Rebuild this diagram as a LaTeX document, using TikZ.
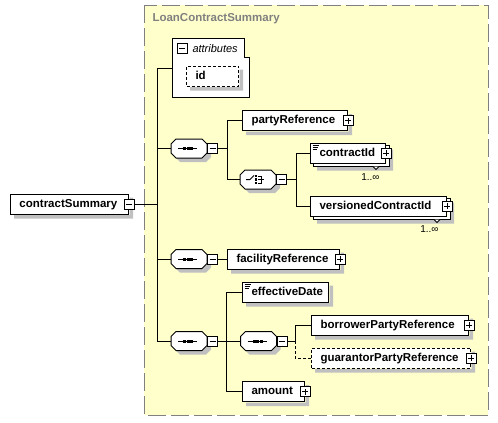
\documentclass[tikz,border=0pt]{standalone}
\usepackage{fontspec}
\setmainfont{Liberation Sans}
\usetikzlibrary{positioning}
\definecolor{lightyellow}{RGB}{255,255,204}
\definecolor{framegray}{RGB}{128,128,128}
\definecolor{shadowgray}{RGB}{192,192,192}
\newcommand{\octpath}[1]{([xshift=5pt]#1.north west) -- ([xshift=-5pt]#1.north east) -- ([yshift=-5pt]#1.north east) -- ([yshift=5pt]#1.south east) -- ([xshift=-5pt]#1.south east) -- ([xshift=5pt]#1.south west) -- ([yshift=5pt]#1.south west) -- ([yshift=-5pt]#1.north west) -- cycle}

\begin{document}
\begin{tikzpicture}[x=1pt, y=-1pt, line width=1pt]
		\tikzstyle{elem} = [rectangle, draw=black, fill=white, align=left, inner xsep=9pt, inner ysep=0pt, minimum height=20pt, text height=8.5pt, text depth=2.5pt, font=\bfseries\fontsize{11.5}{13}\selectfont, anchor=west]
		\tikzstyle{optional} = [dash pattern=on 3pt off 2pt]
		\tikzstyle{simple} = [path picture={
			\draw[line width=0.8pt] ([xshift=2pt, yshift=-2pt]path picture bounding box.north west) -- ++(6pt,0pt);
			\draw[line width=0.8pt] ([xshift=2pt, yshift=-4pt]path picture bounding box.north west) -- ++(5pt,0pt);
			\draw[line width=0.8pt] ([xshift=2pt, yshift=-6pt]path picture bounding box.north west) -- ++(4pt,0pt);}]
		\tikzstyle{minusbox} = [rectangle, draw=black, fill=white, minimum size=10pt, inner sep=0pt, path picture={
			\draw ([xshift=-3pt]path picture bounding box.center) -- ([xshift=3pt]path picture bounding box.center);}]
		\tikzstyle{plusbox} = [rectangle, draw=black, fill=white, minimum size=10pt, inner sep=0pt, path picture={
			\draw ([xshift=-3pt]path picture bounding box.center) -- ([xshift=3pt]path picture bounding box.center);
			\draw ([yshift=-3pt]path picture bounding box.center) -- ([yshift=3pt]path picture bounding box.center);}]
		\tikzstyle{compositor} = [rectangle, minimum width=35pt, minimum height=18pt, inner sep=0pt, append after command={\pgfextra{
			\fill[shadowgray, transform canvas={shift={(4pt,-4pt)}}] \octpath{\tikzlastnode};
			\draw[fill=white] \octpath{\tikzlastnode};}}]
		\tikzstyle{seq} = [compositor, append after command={\pgfextra{
			\begin{scope}[shift={(\tikzlastnode.center)}, x=1pt, y=1pt]
			\draw (-11,0) -- (8,0);
			\fill[black] (-6,-1.5) rectangle ++(3,3);
			\fill[black] (-2.5,-1.5) rectangle ++(3,3);
			\fill[black] (1,-1.5) rectangle ++(3,3);
			\end{scope}}}]
		\tikzstyle{choice} = [compositor, append after command={\pgfextra{
			\begin{scope}[shift={(\tikzlastnode.center)}, x=1pt, y=1pt]
			\draw (-12,0) -- (-8,0) -- (-4,4);
			\fill[black] (-3.25,2.25) rectangle ++(2.5,2.5);
			\fill[black] (-3.25,-1.25) rectangle ++(2.5,2.5);
			\fill[black] (-3.25,-4.75) rectangle ++(2.5,2.5);
			\draw (0,3.5) -- (3,3.5) -- (3,-3.5) -- (0,-3.5);
			\draw (0,0) -- (6,0);
			\end{scope}}}]
		\tikzstyle{occ} = [inner sep=0pt, anchor=east, font=\fontsize{10}{12}\selectfont]
		
		\useasboundingbox (0,0) rectangle (498,423);
		
		\draw [framegray, fill=lightyellow, dash pattern=on 18pt off 5pt] (144,5) rectangle (488,415);
		\node (title) [anchor=base west, inner sep=0pt, text=framegray, font=\bfseries\fontsize{11.5}{13}\selectfont] at (152,21.5) {LoanContractSummary};
		
		\node (root) [elem, text width=100pt] at (10,204) {contractSummary};
		\coordinate (trunk) at (157,204);
		
		\draw [fill=white] (172,38) -- (244,38) -- (244,57) -- (249,57) -- (249,97) -- (172,97) -- cycle;
		\coordinate (attr) at (172,68);
		\node (attrM) [minusbox] at (182,48) {};
		\node (attrText) [anchor=base west, inner sep=0pt, font=\itshape\fontsize{11}{13}\selectfont] at (192,52.5) {attributes};
		\node (id) [elem, optional, text width=34pt] at (186,76) {id};
		
		\node (seqA) [seq] at (189,148.5) {};
		\node (seqAm) [minusbox, right=0pt of seqA] {};
		\coordinate (jA) at (227,148.5);
		\node (party) [elem, text width=87pt] at (242,120.5) {partyReference};
		
		\node (choice) [choice] at (258,179.5) {};
		\node (choiceM) [minusbox, right=0pt of choice] {};
		\coordinate (jB) at (296,179.5);
		\node (cid) [elem, simple, text width=57pt] at (310,153) {contractId};
		\node (vcid) [elem, text width=118pt] at (310,206) {versionedContractId};
		
		\node (seqB) [seq] at (189,259) {};
		\node (seqBm) [minusbox, right=0pt of seqB] {};
		\node (facility) [elem, text width=94pt] at (227,259) {facilityReference};
		
		\node (seqC) [seq] at (189,341) {};
		\node (seqCm) [minusbox, right=0pt of seqC] {};
		\coordinate (jC) at (226,341);
		\node (effdate) [elem, simple, text width=68pt] at (242,292) {effectiveDate};
		\node (seqD) [seq] at (258.5,341) {};
		\node (seqDm) [minusbox, right=0pt of seqD] {};
		\coordinate (jD) at (295,341);
		\node (borrower) [elem, text width=139pt] at (311,325) {borrowerPartyReference};
		\node (guarantor) [elem, optional, text width=141pt] at (311,358) {guarantorPartyReference};
		\node (amount) [elem, text width=44pt] at (242,391.5) {amount};
		
		\foreach \n in {root, id, party, facility, effdate, borrower, guarantor, amount}
			\fill [shadowgray] ([xshift=0.5pt, yshift=-4pt]\n.north east) -- ([xshift=4pt, yshift=-4pt]\n.north east) -- ([xshift=4pt, yshift=-4pt]\n.south east) -- ([xshift=4pt, yshift=-4pt]\n.south west) -- ([xshift=4pt, yshift=-0.5pt]\n.south west) -- ([xshift=0.5pt, yshift=-0.5pt]\n.south east) -- cycle;
		\foreach \n in {cid, vcid} {
			\fill [shadowgray] ([xshift=3.5pt, yshift=-7pt]\n.north east) -- ([xshift=7pt, yshift=-7pt]\n.north east) -- ([xshift=7pt, yshift=-7pt]\n.south east) -- ([xshift=7pt, yshift=-7pt]\n.south west) -- ([xshift=7pt, yshift=-3.5pt]\n.south west) -- ([xshift=3.5pt, yshift=-3.5pt]\n.south east) -- cycle;
			\fill [white] ([xshift=0.5pt, yshift=-3pt]\n.north east) -- ([xshift=3pt, yshift=-3pt]\n.north east) -- ([xshift=3pt, yshift=-3pt]\n.south east) -- ([xshift=3pt, yshift=-3pt]\n.south west) -- ([xshift=3pt, yshift=-0.5pt]\n.south west) -- ([xshift=0.5pt, yshift=-0.5pt]\n.south east) -- cycle;
			\draw ([yshift=-3pt]\n.north east) -- ([xshift=3pt, yshift=-3pt]\n.north east) -- ([xshift=3pt, yshift=-3pt]\n.south east) -- ([xshift=3pt, yshift=-3pt]\n.south west) -- ([xshift=3pt]\n.south west);
			\draw [fill=white] ([xshift=-13pt, yshift=-3pt]\n.south east) -- ++(3,3) -- ++(3,-3);
		}
		
		\node (rootM) [minusbox] at (root.east) {};
		\node (partyP) [plusbox] at (party.east) {};
		\node (cidP) [plusbox] at (cid.east) {};
		\node (cidOcc) [occ] at (380,177.5) {1..∞};
		\node (vcidP) [plusbox] at (vcid.east) {};
		\node (vcidOcc) [occ] at (439,229) {1..∞};
		\node (facilityP) [plusbox] at (facility.east) {};
		\node (borrowerP) [plusbox] at (borrower.east) {};
		\node (guarantorP) [plusbox] at (guarantor.east) {};
		\node (amountP) [plusbox] at (amount.east) {};
		
		\draw (rootM.east) -- (trunk);
		\draw (trunk) |- (attr);
		\draw (trunk) |- (seqA.west);
		\draw (trunk) |- (seqB.west);
		\draw (trunk) |- (seqC.west);
		\draw (seqAm.east) -- (jA);
		\draw (jA) |- (party.west);
		\draw (jA) |- (choice.west);
		\draw (choiceM.east) -- (jB);
		\draw (jB) |- (cid.west);
		\draw (jB) |- (vcid.west);
		\draw (seqBm.east) -- (facility.west);
		\draw (seqCm.east) -- (jC);
		\draw (jC) |- (effdate.west);
		\draw (jC) -- (seqD.west);
		\draw (jC) |- (amount.west);
		\draw (seqDm.east) -- (jD);
		\draw (jD) |- (borrower.west);
		\draw [optional] (jD) |- (guarantor.west);
\end{tikzpicture}
\end{document}
